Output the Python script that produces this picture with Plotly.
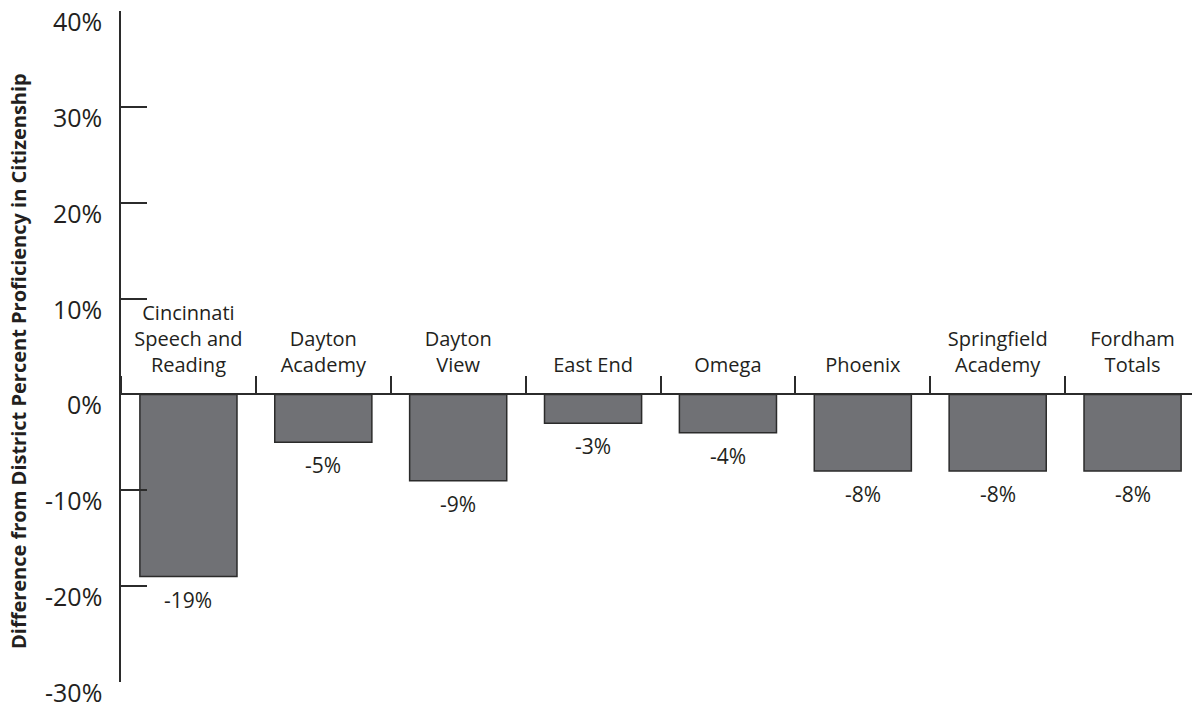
import plotly.graph_objects as go

schools = ["Cincinnati Speech and Reading", "Dayton Academy", "Dayton View", "East End",
           "Omega", "Phoenix", "Springfield Academy", "Fordham Totals"]
school_labels = ["Cincinnati<br>Speech and<br>Reading", "Dayton<br>Academy", "Dayton<br>View",
                 "East End", "Omega", "Phoenix", "Springfield<br>Academy", "Fordham<br>Totals"]
diff_pct = [-19, -5, -9, -3, -4, -8, -8, -8]
value_labels = ["-19%", "-5%", "-9%", "-3%", "-4%", "-8%", "-8%", "-8%"]
y_ticks = [-30, -20, -10, 0, 10, 20, 30, 40]
y_tick_labels = ["-30%", "-20%", "-10%", "0%", "10%", "20%", "30%", "40%"]
y_title = "Difference from District Percent Proficiency in Citizenship"

TXT = "#231f20"
AX = "#2b2b2b"
FONT = "Open Sans"

fig = go.Figure()
fig.add_trace(go.Bar(
    x=schools, y=diff_pct, width=0.72,
    marker=dict(color="#707175", line=dict(color=AX, width=1.5)),
    hoverinfo="skip", showlegend=False,
))

annotations = []
for s, v, t in zip(schools, diff_pct, value_labels):
    annotations.append(dict(x=s, y=v, xref="x", yref="y", text=t, showarrow=False,
                            yanchor="top", yshift=-7,
                            font=dict(family=FONT, size=21, color=TXT)))
for v, t in zip(y_ticks, y_tick_labels):
    annotations.append(dict(x=0, y=v, xref="paper", yref="y", text=t, showarrow=False,
                            xanchor="right", xshift=-18, yshift=-10, borderpad=0,
                            font=dict(family=FONT, size=25, color=TXT)))
annotations.append(dict(x=0, y=0.4784, xref="paper", yref="paper", text="<b>" + y_title + "</b>",
                        showarrow=False, textangle=-90, xanchor="center", yanchor="middle",
                        xshift=-102,
                        font=dict(family=FONT, size=20, color=TXT)))

y_min, y_max = -30, 40
fig.update_layout(
    width=1192, height=701,
    margin=dict(l=113, r=0, t=3, b=27),
    paper_bgcolor="white", plot_bgcolor="white",
    annotations=annotations,
    xaxis=dict(
        type="category", categoryorder="array", categoryarray=schools,
        tickmode="array", tickvals=schools, ticktext=school_labels,
        side="top", anchor="free", position=(0 - y_min) / (y_max - y_min),
        showline=True, linecolor=AX, linewidth=2,
        ticks="outside", ticklen=17, tickwidth=2, tickcolor=AX,
        tickson="boundaries", showgrid=False, zeroline=False,
        ticklabelstandoff=13,
        tickfont=dict(family=FONT, size=20, color=TXT),
        range=[-0.5, 7.5],
    ),
    yaxis=dict(
        range=[y_min, y_max], tickvals=y_ticks, showticklabels=False,
        showline=True, linecolor=AX, linewidth=2,
        ticks="inside", ticklen=26, tickwidth=2, tickcolor=AX,
        showgrid=False, zeroline=False,
    ),
)

fig.write_html("out.html")
